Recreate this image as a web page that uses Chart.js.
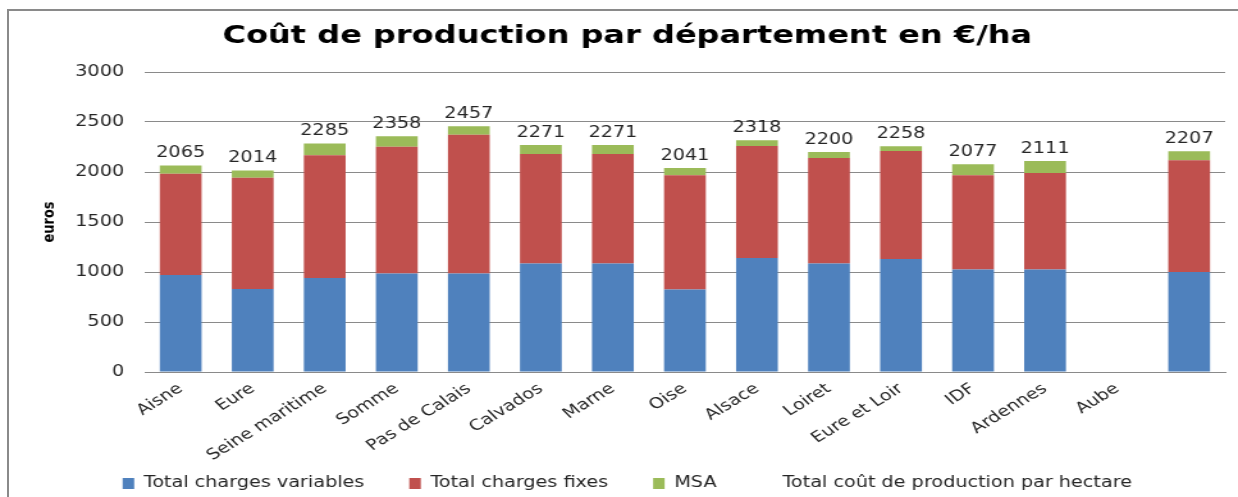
<!DOCTYPE html>
<html>
<head>
<meta charset="utf-8">
<script src="https://cdn.jsdelivr.net/npm/chart.js@4.4.1/dist/chart.umd.min.js"></script>
<style>
html, body { margin:0; padding:0; background:#fff; overflow:hidden; }
#wrap { position:relative; width:1238px; height:497px; overflow:hidden; }
#frame { position:absolute; left:7px; top:9px; width:1300px; height:600px; border:2px solid #8a8a8a; box-sizing:border-box; }
/* le graphique d'origine est etire en largeur */
#barChart { position:absolute; left:0; top:0; transform:scaleX(1.2802); transform-origin:0 0; }
</style>
</head>
<body>
<div id="wrap">
  <div id="frame"></div>
  <canvas id="barChart" width="967" height="497"></canvas>
</div>
<script>
/* Cout de production par departement (euros/ha) */
var departements = ["Aisne", "Eure", "Seine maritime", "Somme", "Pas de Calais", "Calvados", "Marne",
                    "Oise", "Alsace", "Loiret", "Eure et Loir", "IDF", "Ardennes", "Aube", ""];
var chargesVariables = [970, 830, 940, 985, 985, 1085, 1085, 825, 1140, 1085, 1130, 1025, 1025, null, 1000];
var chargesFixes     = [1013, 1113, 1227, 1268, 1388, 1095, 1095, 1142, 1120, 1055, 1080, 942, 965, null, 1117];
var msa              = [82, 71, 118, 105, 84, 91, 91, 74, 58, 60, 48, 110, 121, null, 90];
var totalCout        = [2065, 2014, 2285, 2358, 2457, 2271, 2271, 2041, 2318, 2200, 2258, 2077, 2111, null, 2207];
var yMin = 0, yMax = 3000, yStep = 500;

var tickFont = { family: "DejaVu Sans", size: 15 };
var gridColor = "#8a8a8a";
var padBottom = -4;

// etiquettes des totaux au-dessus des barres
var totalLabels = {
    id: "totalLabels",
    afterDatasetsDraw: function (chart) {
        var ctx = chart.ctx;
        var meta = chart.getDatasetMeta(3);
        ctx.save();
        ctx.font = "15px 'DejaVu Sans'";
        ctx.fillStyle = "#262626";
        ctx.textAlign = "center";
        ctx.textBaseline = "middle";
        meta.data.forEach(function (pt, i) {
            var v = totalCout[i];
            if (v === null) return;
            ctx.fillText(String(v), pt.x, pt.y - 12);
        });
        ctx.restore();
    }
};

var chartdata = {
    labels: departements,
    datasets: [
        {
            label: "Total charges variables",
            backgroundColor: "#4F81BD",
            borderWidth: 0,
            data: chargesVariables,
            stack: "cout"
        },
        {
            label: "Total charges fixes",
            backgroundColor: "#C0504D",
            borderWidth: 0,
            data: chargesFixes,
            stack: "cout"
        },
        {
            label: "MSA",
            backgroundColor: "#9BBB59",
            borderWidth: 0,
            data: msa,
            stack: "cout"
        },
        {
            type: "line",
            label: "Total coût de production par hectare",
            data: totalCout,
            stack: "total",
            showLine: false,
            pointRadius: 0,
            borderColor: "rgba(0,0,0,0)",
            backgroundColor: "rgba(0,0,0,0)"
        }
    ]
};

var graphTarget = document.getElementById("barChart");

var barGraph = new Chart(graphTarget, {
    type: "bar",
    data: chartdata,
    plugins: [totalLabels],
    options: {
        responsive: false,
        animation: false,
        devicePixelRatio: 1,
        categoryPercentage: 0.58,
        barPercentage: 1,
        layout: { padding: { left: 23, right: 10, top: 0, bottom: padBottom } },
        plugins: {
            title: {
                display: true,
                text: "Coût de production par département en €/ha",
                color: "#000",
                font: { family: "DejaVu Sans", size: 25, weight: "bold" },
                padding: { top: 21, bottom: 21 }
            },
            legend: {
                position: "bottom",
                labels: {
                    color: "#262626",
                    font: tickFont,
                    boxWidth: 9,
                    boxHeight: 11,
                    padding: 16,
                    generateLabels: function (chart) {
                        var items = Chart.defaults.plugins.legend.labels.generateLabels(chart);
                        items.forEach(function (it, i) {
                            if (i < items.length - 1) it.text = it.text + "    ";
                        });
                        return items;
                    }
                }
            },
            tooltip: { enabled: false }
        },
        scales: {
            x: {
                stacked: true,
                grid: { display: false, drawTicks: false },
                border: { display: true, color: gridColor, width: 1 },
                ticks: {
                    color: "#262626",
                    font: tickFont,
                    minRotation: 38,
                    maxRotation: 38,
                    autoSkip: false,
                    padding: 8
                },
                afterFit: function (scale) {
                    scale.height = 497 - padBottom - 372 - scale.chart.legend.height;
                }
            },
            y: {
                stacked: true,
                min: yMin,
                max: yMax,
                grid: { color: gridColor, lineWidth: 1, drawTicks: false },
                border: { display: false },
                ticks: {
                    stepSize: yStep,
                    color: "#262626",
                    font: tickFont,
                    padding: 16,
                    callback: function (v) { return String(v); }
                },
                title: {
                    display: true,
                    text: "euros",
                    color: "#000",
                    font: { family: "DejaVu Sans", size: 13, weight: "bold" },
                    padding: { top: 8, bottom: 0 }
                },
                afterFit: function (scale) {
                    scale.width = 90;
                }
            }
        }
    }
});
</script>
</body>
</html>
